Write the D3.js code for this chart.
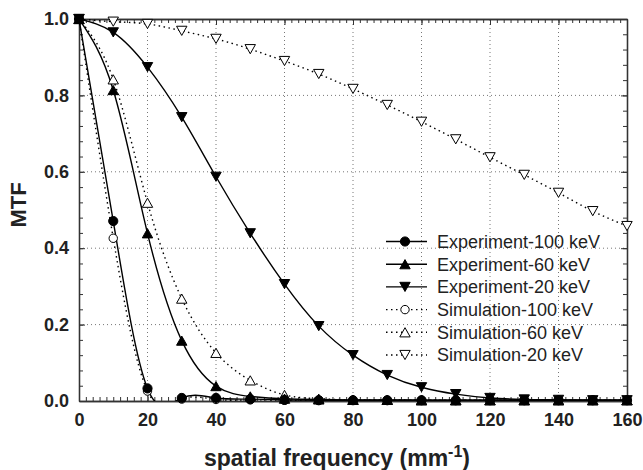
<!DOCTYPE html>
<html><head><meta charset="utf-8">
<script src="https://cdn.jsdelivr.net/npm/d3@7"></script>
<style>body{margin:0;background:#fff}svg{display:block}</style>
</head><body>
<script>
const freq = [0,10,20,30,40,50,60,70,80,90,100,110,120,130,140,150,160];
const exp100 = [1.0,0.471,0.033,0.008,0.008,0.005,0.003,0.002,0.002,0.002,0.002,0.002,0.002,0.002,0.002,0.002,0.002];
const exp60  = [1.0,0.814,0.439,0.158,0.039,0.012,0.006,0.004,0.003,0.003,0.002,0.002,0.002,0.002,0.002,0.002,0.002];
const exp20  = [1.0,0.965,0.874,0.743,0.587,0.439,0.306,0.196,0.120,0.068,0.036,0.018,0.008,0.004,0.003,0.002,0.002];
const sim100 = [1.0,0.426,0.026,0.005,0.004,0.003,0.002,0.002,0.002,0.002,0.002,0.002,0.002,0.002,0.002,0.002,0.002];
const sim60  = [1.0,0.842,0.519,0.268,0.126,0.054,0.016,0.006,0.003,0.003,0.002,0.002,0.002,0.002,0.002,0.002,0.002];
const sim20  = [1.0,0.993,0.987,0.969,0.948,0.921,0.890,0.856,0.817,0.775,0.731,0.685,0.638,0.592,0.545,0.497,0.458];
const seriesNames = ["Experiment-100 keV","Experiment-60 keV","Experiment-20 keV","Simulation-100 keV","Simulation-60 keV","Simulation-20 keV"];
const xTicks = [0,20,40,60,80,100,120,140,160];
const yTicks = [0.0,0.2,0.4,0.6,0.8,1.0];

const W=643,H=470;
const svg=d3.select("body").append("svg").attr("width",W).attr("height",H);
const x=d3.scaleLinear().domain([0,160]).range([79,627]);
const y=d3.scaleLinear().domain([0,1]).range([401,19]);
const font="'Liberation Sans', Arial, sans-serif";
const axisCol="#333";

svg.append("defs").append("clipPath").attr("id","clip").append("rect")
  .attr("x",x(0)).attr("y",y(1)).attr("width",x(160)-x(0)).attr("height",y(0)-y(1));

const grid=svg.append("g");
xTicks.slice(1,-1).forEach(t=>grid.append("line").attr("x1",x(t)).attr("x2",x(t)).attr("y1",y(0)).attr("y2",y(1))
  .attr("stroke","#777").attr("stroke-width",1).attr("stroke-dasharray","1,3"));
yTicks.slice(1,-1).forEach(t=>grid.append("line").attr("x1",x(0)).attr("x2",x(160)).attr("y1",y(t)).attr("y2",y(t))
  .attr("stroke","#777").attr("stroke-width",1).attr("stroke-dasharray","1,3"));

const minorX=d3.range(0,161,2), minorY=d3.range(0,1.0001,0.04);
function ax(gen, tr){ return svg.append("g").attr("transform",tr).call(gen); }
ax(d3.axisBottom(x).tickValues(xTicks).tickSizeInner(-6).tickSizeOuter(0).tickPadding(12).tickFormat(d3.format("d")),`translate(0,${y(0)})`);
ax(d3.axisBottom(x).tickValues(minorX).tickSizeInner(-4).tickSizeOuter(0).tickFormat(""),`translate(0,${y(0)})`);
ax(d3.axisTop(x).tickValues(xTicks).tickSizeInner(-6).tickSizeOuter(0).tickFormat(""),`translate(0,${y(1)})`);
ax(d3.axisTop(x).tickValues(minorX).tickSizeInner(-4).tickSizeOuter(0).tickFormat(""),`translate(0,${y(1)})`);
ax(d3.axisLeft(y).tickValues(yTicks).tickSizeInner(-6).tickSizeOuter(0).tickPadding(10).tickFormat(d3.format(".1f")),`translate(${x(0)},0)`);
ax(d3.axisLeft(y).tickValues(minorY).tickSizeInner(-4).tickSizeOuter(0).tickFormat(""),`translate(${x(0)},0)`);
ax(d3.axisRight(y).tickValues(yTicks).tickSizeInner(-6).tickSizeOuter(0).tickFormat(""),`translate(${x(160)},0)`);
ax(d3.axisRight(y).tickValues(minorY).tickSizeInner(-4).tickSizeOuter(0).tickFormat(""),`translate(${x(160)},0)`);
svg.selectAll(".domain").attr("stroke",axisCol).attr("stroke-width",1.3);
svg.selectAll(".tick line").attr("stroke",axisCol).attr("stroke-width",1);
svg.selectAll(".tick text").attr("font-family",font).attr("font-weight","bold").attr("font-size",18).attr("fill","#222");

const tt=svg.append("text").attr("x",337).attr("y",466).attr("text-anchor","middle")
  .attr("font-family",font).attr("font-weight","bold").attr("font-size",23).attr("fill","#222");
tt.append("tspan").text("spatial frequency (mm");
tt.append("tspan").attr("font-size",16).attr("dy",-9).text("-1");
tt.append("tspan").attr("dy",9).text(")");
svg.append("text").attr("transform","translate(26,205) rotate(-90)").attr("text-anchor","middle")
  .attr("font-family",font).attr("font-weight","bold").attr("font-size",22).attr("fill","#222").text("MTF");

const series=[
  {name:seriesNames[3],vals:sim100,shape:"circle",fill:"#fff",dash:"1.5,3.5"},
  {name:seriesNames[4],vals:sim60,shape:"up",fill:"#fff",dash:"1.5,3.5"},
  {name:seriesNames[5],vals:sim20,shape:"down",fill:"#fff",dash:"1.5,3.5"},
  {name:seriesNames[0],vals:exp100,shape:"circle",fill:"#000",dash:null},
  {name:seriesNames[1],vals:exp60,shape:"up",fill:"#000",dash:null},
  {name:seriesNames[2],vals:exp20,shape:"down",fill:"#000",dash:null},
];
function marker(g,shape,fill,cx,cy){
  if(shape==="circle"){
    g.append("circle").attr("cx",cx).attr("cy",cy).attr("r",fill==="#000"?4.6:4.2)
      .attr("fill",fill).attr("stroke","#000").attr("stroke-width",1);
  } else {
    const s=5.2, h=4.6, d=shape==="up"?1:-1;
    const pts=[[cx,cy-d*h],[cx-s,cy+d*h],[cx+s,cy+d*h]];
    g.append("path").attr("d","M"+pts.map(p=>p.join(",")).join("L")+"Z")
      .attr("fill",fill).attr("stroke","#000").attr("stroke-width",1);
  }
}
const line=d3.line().x(d=>x(d[0])).y(d=>y(d[1])).curve(d3.curveNatural);
const plot=svg.append("g").attr("clip-path","url(#clip)");
series.forEach(s=>{
  const data=freq.map((f,i)=>[f,s.vals[i]]);
  const p=plot.append("path").datum(data).attr("d",line).attr("fill","none").attr("stroke","#000").attr("stroke-width",1.4);
  if(s.dash) p.attr("stroke-dasharray",s.dash);
});
const mk=svg.append("g");
series.forEach(s=>{ freq.forEach((f,i)=>marker(mk,s.shape,s.fill,x(f),y(s.vals[i]))); });

const legOrder=[3,4,5,0,1,2];
const lg=svg.append("g");
legOrder.forEach((si,k)=>{
  const s=series[si]; const cy=241.5+k*22.7;
  const l=lg.append("line").attr("x1",386).attr("x2",427).attr("y1",cy).attr("y2",cy).attr("stroke","#000").attr("stroke-width",1.4);
  if(s.dash) l.attr("stroke-dasharray",s.dash);
  marker(lg,s.shape,s.fill,405,cy);
  lg.append("text").attr("x",437).attr("y",cy+6.3).attr("font-family",font).attr("font-size",18).attr("fill","#222").text(s.name);
});
</script>
</body></html>
